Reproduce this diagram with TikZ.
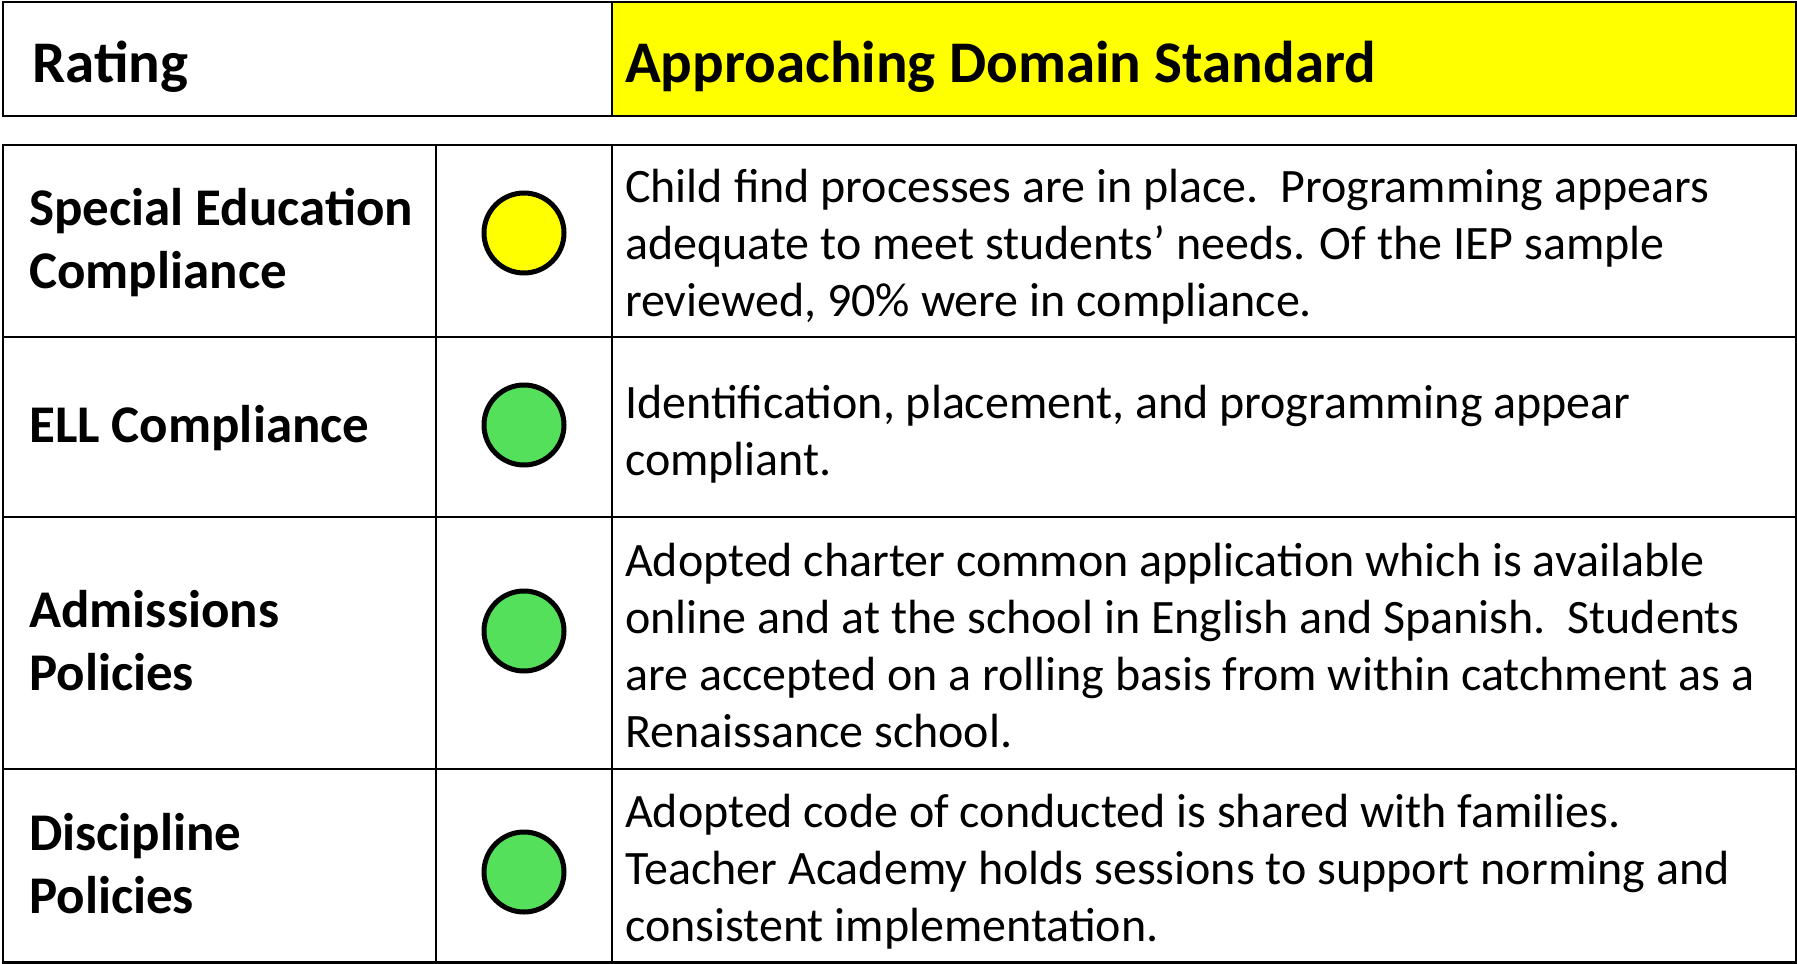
\documentclass[tikz,border=0pt]{standalone}
\usepackage{fontspec}
\setmainfont{Carlito}
\definecolor{hdryellow}{RGB}{255,255,0}
\definecolor{dotgreen}{RGB}{85,224,91}
\newcommand{\hdrfont}{\fontsize{59}{70}\selectfont\bfseries}
\newcommand{\lblfont}{\fontsize{53}{63}\selectfont\bfseries}
\newcommand{\bodyfont}{\fontsize{48}{57}\selectfont}
\tikzset{
  hdr/.style={anchor=base west, inner sep=0pt, font=\hdrfont},
  lbl/.style={anchor=base west, inner sep=0pt, font=\lblfont},
  body/.style={anchor=base west, inner sep=0pt, font=\bodyfont},
  dot/.style={circle, draw=black, line width=5pt, minimum size=80pt, inner sep=0pt},
  outer/.style={line width=2.6pt},
  inner/.style={line width=2.2pt}
}
\begin{document}
\begin{tikzpicture}[x=1pt,y=-1pt]
\useasboundingbox (0,0) rectangle (1797,964);
% header
\fill[hdryellow] (612,2) rectangle (1796,116);
\draw[outer] (3,2) rectangle (1796,116);
\draw[inner] (612,2) -- (612,116);
\node[hdr] (rating) at (32,82) {Rating};
\node[hdr] (standard) at (625,82) {Approaching Domain Standard};
% table grid
\draw[outer] (3,145) rectangle (1796,962.5);
\draw[inner] (436,145) -- (436,962.5);
\draw[inner] (612,145) -- (612,962.5);
\draw[inner] (3,337) -- (1796,337);
\draw[inner] (3,517) -- (1796,517);
\draw[inner] (3,769) -- (1796,769);
% labels
\node[lbl] (l1) at (29,225) {\begin{tabular}[t]{@{}l@{}}Special Education\\Compliance\end{tabular}};
\node[lbl] (l2) at (29,442) {ELL Compliance};
\node[lbl] (l3) at (29,627) {\begin{tabular}[t]{@{}l@{}}Admissions\\Policies\end{tabular}};
\node[lbl] (l4) at (29,850) {\begin{tabular}[t]{@{}l@{}}Discipline\\Policies\end{tabular}};
% dots
\node[dot, fill=hdryellow] (d1) at (524,233) {};
\node[dot, fill=dotgreen] (d2) at (524,425) {};
\node[dot, fill=dotgreen] (d3) at (524,631) {};
\node[dot, fill=dotgreen] (d4) at (524,872) {};
% body texts
\node[body] (t1) at (625,202) {\begin{tabular}[t]{@{}l@{}}Child find processes are in place.~~Programming appears\\adequate to meet students’ needs. Of the IEP sample\\reviewed, 90\% were in compliance.\end{tabular}};
\node[body] (t2) at (625,418) {\begin{tabular}[t]{@{}l@{}}Identification, placement, and programming appear\\compliant.\end{tabular}};
\node[body] (t3) at (625,576) {\begin{tabular}[t]{@{}l@{}}Adopted charter common application which is available\\online and at the school in English and Spanish.~~Students\\are accepted on a rolling basis from within catchment as a\\Renaissance school.\end{tabular}};
\node[body] (t4) at (625,827) {\begin{tabular}[t]{@{}l@{}}Adopted code of conducted is shared with families.\\Teacher Academy holds sessions to support norming and\\consistent implementation.\end{tabular}};
\end{tikzpicture}
\end{document}
